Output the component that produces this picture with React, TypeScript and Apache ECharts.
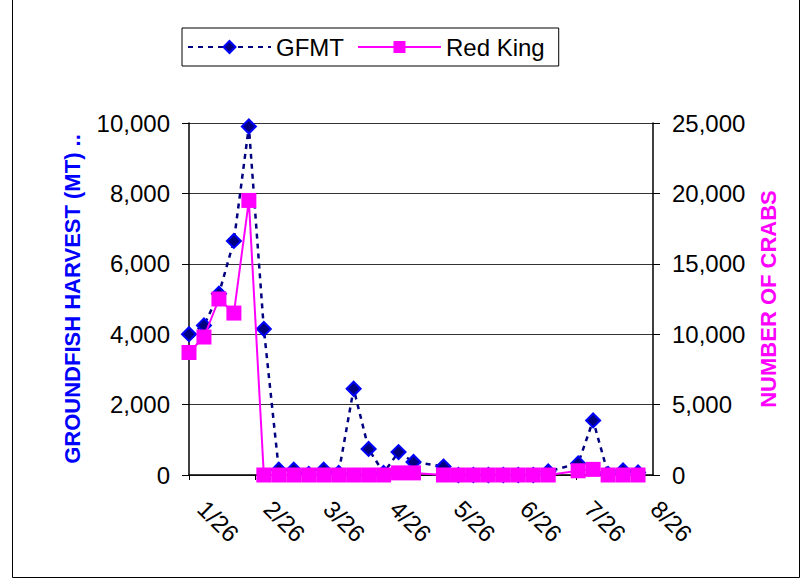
import React, { useEffect, useRef } from "react";
import * as echarts from "echarts";

// ---- DATA ----
const weekDates = [
  "1/26", "2/2", "2/9", "2/16", "2/23", "3/2", "3/9", "3/16", "3/23", "3/30",
  "4/6", "4/13", "4/20", "4/27", "5/4", "5/11", "5/18", "5/25", "6/1", "6/8",
  "6/15", "6/22", "6/29", "7/6", "7/13", "7/20", "7/27", "8/3", "8/10", "8/17", "8/24",
];
const gfmt: (number | null)[] = [
  4000, 4250, 5150, 6650, 9900, 4150, 150, 150, 30, 150,
  60, 2450, 740, 60, 650, 370, null, 240, 0, 0,
  0, 0, 0, 0, 100, null, 330, 1550, 30, 130, 70,
];
const redKing: (number | null)[] = [
  8700, 9800, 12500, 11500, 19500, 0, 0, 0, 0, 0,
  0, 0, 0, 0, 150, 150, null, 0, 0, 0,
  0, 0, 0, 0, 0, null, 300, 400, 0, 0, 0,
];
const monthTicks = ["1/26", "2/26", "3/26", "4/26", "5/26", "6/26", "7/26", "8/26"];
const axisStart = "1/26";
const axisEnd = "8/31";
const leftMax = 10000;
const leftStep = 2000;
const rightMax = 25000;
const rightStep = 5000;
const seriesNames = ["GFMT", "Red King"];
const leftTitle = "GROUNDFISH HARVEST (MT) ..";
const rightTitle = "NUMBER OF CRABS";

const DAY_MS = 86400000;
const dayOf = (md: string) => {
  const [m, d] = md.split("/").map(Number);
  const [m0, d0] = axisStart.split("/").map(Number);
  return Math.round((Date.UTC(2001, m - 1, d) - Date.UTC(2001, m0 - 1, d0)) / DAY_MS);
};

const toPoints = (vals: (number | null)[]) =>
  weekDates
    .map((d, i) => [dayOf(d), vals[i]] as [number, number | null])
    .filter((p) => p[1] !== null);

const fmt = (v: number) => v.toLocaleString("en-US");
const FONT = "'Liberation Sans', Arial, sans-serif";

export default function App() {
  const ref = useRef<HTMLDivElement>(null);
  useEffect(() => {
    if (!ref.current) return;
    const chart = echarts.init(ref.current, null, { renderer: "svg" });
    const tickDays = monthTicks.map(dayOf);
    const labelMap: Record<number, string> = {};
    monthTicks.forEach((t) => (labelMap[dayOf(t)] = t));
    chart.setOption({
      animation: false,
      backgroundColor: "#fff",
      textStyle: { fontFamily: FONT },
      grid: { left: 189, right: 157, top: 123, bottom: 105, containLabel: false, outerBoundsMode: "none" },
      legend: {
        left: 182,
        top: 28,
        padding: [7, 14, 7, 5],
        borderColor: "#000",
        borderWidth: 1,
        itemGap: 13,
        itemWidth: 83,
        itemHeight: 15,
        textStyle: { fontSize: 24, color: "#000", fontFamily: FONT },
        data: seriesNames,
      },
      xAxis: {
        type: "value",
        min: 0,
        max: dayOf(axisEnd),
        axisLine: { show: true, lineStyle: { color: "#000", width: 1.5 } },
        axisTick: { show: true, length: 5, customValues: tickDays, lineStyle: { color: "#000" } },
        axisLabel: {
          customValues: tickDays,
          rotate: -45,
          margin: 17,
          padding: [0, 0, 0, 18],
          fontSize: 24,
          color: "#000",
          fontFamily: FONT,
          formatter: (v: number) => labelMap[v] ?? "",
        },
        splitLine: { show: false },
      },
      yAxis: [
        {
          type: "value",
          min: 0,
          max: leftMax,
          interval: leftStep,
          position: "left",
          name: leftTitle,
          nameLocation: "middle",
          nameRotate: 90,
          nameGap: 106,
          nameTextStyle: { color: "#0000FF", fontSize: 22, fontWeight: "bold", fontFamily: FONT },
          axisLine: { show: true, lineStyle: { color: "#000", width: 1.5 } },
          axisTick: { show: true, length: 7, lineStyle: { color: "#000" } },
          axisLabel: { margin: 19, fontSize: 24, color: "#000", fontFamily: FONT, formatter: fmt },
          splitLine: { show: true, lineStyle: { color: "#333", width: 1 } },
        },
        {
          type: "value",
          min: 0,
          max: rightMax,
          interval: rightStep,
          position: "right",
          name: rightTitle,
          nameLocation: "middle",
          nameRotate: 90,
          nameGap: 104,
          nameTextStyle: { color: "#FF00FF", fontSize: 22, fontWeight: "bold", fontFamily: FONT },
          axisLine: { show: true, lineStyle: { color: "#000", width: 1.5 } },
          axisTick: { show: true, length: 7, lineStyle: { color: "#000" } },
          axisLabel: { margin: 19, fontSize: 24, color: "#000", fontFamily: FONT, formatter: fmt },
          splitLine: { show: false },
        },
      ],
      series: [
        {
          name: seriesNames[0],
          type: "line",
          yAxisIndex: 0,
          data: toPoints(gfmt),
          symbol: "diamond",
          symbolSize: 14,
          showAllSymbol: true,
          lineStyle: { color: "#000080", width: 2.5, type: [5, 5] },
          itemStyle: { color: "#000080", borderColor: "#0000FF", borderWidth: 2 },
          z: 2,
        },
        {
          name: seriesNames[1],
          type: "line",
          yAxisIndex: 1,
          data: toPoints(redKing),
          symbol: "rect",
          symbolSize: 15,
          showAllSymbol: true,
          lineStyle: { color: "#FF00FF", width: 2 },
          itemStyle: { color: "#FF00FF", borderColor: "#FF00FF", borderWidth: 0 },
          z: 3,
        },
      ],
      graphic: [
        {
          type: "rect",
          shape: { x: 12.5, y: -2, width: 787, height: 579.5 },
          style: { fill: "none", stroke: "#000", lineWidth: 1 },
          silent: true,
          z: -1,
        },
      ],
    });
    return () => chart.dispose();
  }, []);
  return (
    <div
      ref={ref}
      style={{ position: "absolute", left: 0, top: 0, width: 810, height: 580 }}
    />
  );
}
